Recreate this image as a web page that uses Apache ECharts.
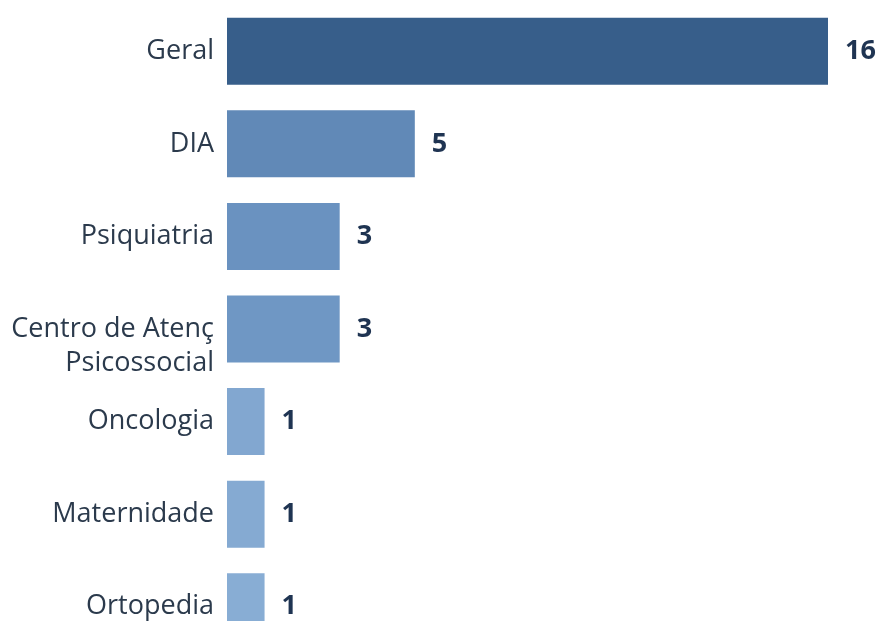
<!DOCTYPE html>
<html>
<head>
<meta charset="utf-8">
<script src="https://cdn.jsdelivr.net/npm/echarts@6/dist/echarts.min.js"></script>
<style>
html,body{margin:0;padding:0;background:#fff;}
#c{width:884px;height:621px;}
</style>
</head>
<body>
<div id="c"></div>
<script>
const categories = ["Geral", "DIA", "Psiquiatria", "Centro de Atenç\nPsicossocial", "Oncologia", "Maternidade", "Ortopedia"];
const values = [16, 5, 3, 3, 1, 1, 1];
const barColors = ["#375e8a", "#6189b7", "#6a92c0", "#6f97c4", "#82a7d0", "#85aad2", "#88add4"];

const chart = echarts.init(document.getElementById('c'), null, {renderer: 'canvas'});
chart.setOption({
  animation: false,
  backgroundColor: '#ffffff',
  grid: {left: 227, right: 56, top: 5, bottom: -32, containLabel: false, outerBoundsMode: 'none'},
  xAxis: {
    type: 'value', min: 0, max: 16, show: false
  },
  yAxis: {
    type: 'category',
    inverse: true,
    data: categories,
    axisLine: {show: false},
    axisTick: {show: false},
    splitLine: {show: false},
    axisLabel: {
      margin: 13,
      color: '#2b3a4c',
      fontFamily: 'Open Sans',
      fontSize: 27,
      lineHeight: 34,
      align: 'right',
      formatter: v => (v.indexOf('\n') >= 0 ? '\n' + v : v)
    }
  },
  series: [{
    type: 'bar',
    barWidth: 67,
    data: values.map((v, i) => ({value: v, itemStyle: {color: barColors[i]}})),
    label: {
      show: true,
      position: 'right',
      distance: 17,
      color: '#1f3452',
      fontFamily: 'Open Sans',
      fontWeight: 'bold',
      fontSize: 27
    }
  }]
});
</script>
</body>
</html>
